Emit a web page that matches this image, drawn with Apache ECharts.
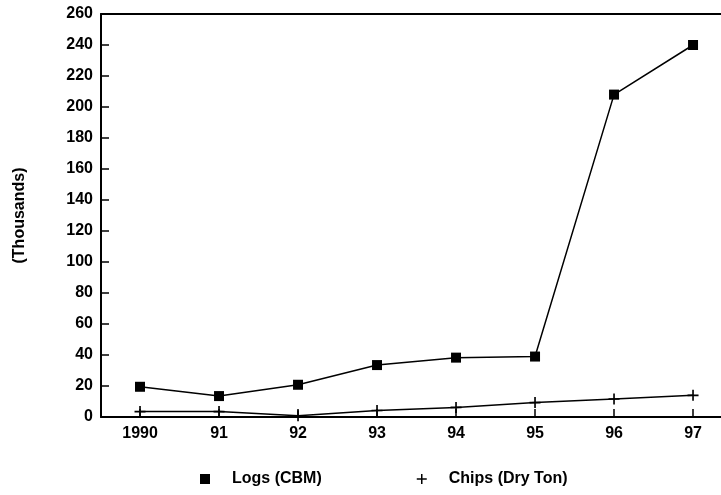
<!DOCTYPE html>
<html>
<head>
<meta charset="utf-8">
<script src="https://cdn.jsdelivr.net/npm/echarts@6/dist/echarts.min.js"></script>
<style>html,body{margin:0;padding:0;background:#fff;overflow:hidden}#c{width:721px;height:495px}</style>
</head>
<body>
<div id="c"></div>
<script>
const categories = ['1990', '91', '92', '93', '94', '95', '96', '97'];
const logs = [19.5, 13.5, 20.8, 33.5, 38.3, 39, 208, 240];
const chips = [3.5, 3.5, 0.8, 4.2, 6.2, 9.3, 11.6, 14];
const yTicks = { min: 0, max: 260, interval: 20 };
const seriesNames = ['Logs (CBM)', 'Chips (Dry Ton)'];

const plusPath = 'path://M4.25,0H5.75V4.25H10V5.75H5.75V10H4.25V5.75H0V4.25H4.25Z';
const font = 'Liberation Sans, Arial, sans-serif';

const idx = categories.map((c, i) => i);
const xMin = -0.494, xMax = 7.354;

const chart = echarts.init(document.getElementById('c'), null, { renderer: 'canvas' });
chart.setOption({
  animation: false,
  backgroundColor: '#fff',
  grid: { left: 101, top: 14, right: 0, height: 403, outerBoundsMode: 'none', containLabel: false, show: false },
  xAxis: [
    {
      type: 'value',
      min: xMin, max: xMax,
      axisLine: { show: true, onZero: false, lineStyle: { color: '#000', width: 2 } },
      axisTick: { show: true, inside: true, customValues: idx, length: 8, lineStyle: { color: '#000', width: 1.5 } },
      axisLabel: { show: true, customValues: idx, formatter: v => categories[Math.round(v)], color: '#000', fontFamily: font, fontWeight: 'bold', fontSize: 16, margin: 9, showMinLabel: true, showMaxLabel: true },
      splitLine: { show: false }
    },
    {
      type: 'value',
      position: 'top',
      min: xMin, max: xMax,
      axisLine: { show: true, onZero: false, lineStyle: { color: '#000', width: 2 } },
      axisTick: { show: false },
      axisLabel: { show: false },
      splitLine: { show: false }
    }
  ],
  yAxis: {
    type: 'value',
    position: 'left',
    min: yTicks.min, max: yTicks.max, interval: yTicks.interval,
    name: '(Thousands)',
    nameLocation: 'middle',
    nameGap: 73,
    nameRotate: 90,
    nameTextStyle: { color: '#000', fontFamily: font, fontWeight: 'bold', fontSize: 16 },
    axisLine: { show: true, onZero: false, lineStyle: { color: '#000', width: 2 } },
    axisTick: { show: true, inside: true, length: 8, lineStyle: { color: '#000', width: 1.5 } },
    axisLabel: { color: '#000', fontFamily: font, fontWeight: 'bold', fontSize: 16, margin: 8 },
    splitLine: { show: false }
  },
  legend: {
    left: 200,
    top: 471,
    padding: 0,
    itemWidth: 10,
    itemHeight: 10,
    itemGap: 95,
    textStyle: { color: '#000', fontFamily: font, fontWeight: 'bold', fontSize: 16, padding: [0, 0, 0, 17] },
    data: [
      { name: seriesNames[0], icon: 'rect', itemStyle: { color: '#000' } },
      { name: seriesNames[1], icon: plusPath, itemStyle: { color: '#000' } }
    ]
  },
  series: [
    {
      name: seriesNames[0],
      type: 'line',
      data: logs.map((v, i) => [i, v]),
      symbol: 'rect',
      symbolSize: 10,
      itemStyle: { color: '#000' },
      lineStyle: { color: '#000', width: 1.5 }
    },
    {
      name: seriesNames[1],
      type: 'line',
      data: chips.map((v, i) => [i, v]),
      symbol: plusPath,
      symbolSize: 11,
      itemStyle: { color: '#000' },
      lineStyle: { color: '#000', width: 1.5 }
    }
  ]
});
</script>
</body>
</html>
